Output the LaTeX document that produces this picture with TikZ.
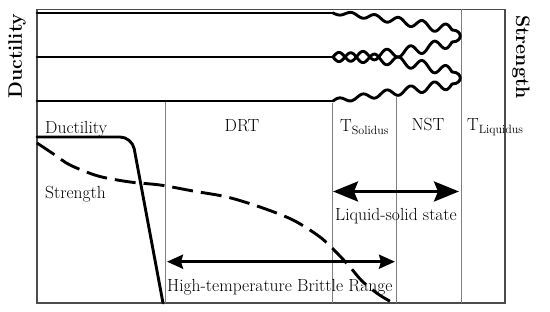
\documentclass[tikz,border=0pt]{standalone}
\usetikzlibrary{arrows.meta}
\newcommand\wavyline[8]{%
  \draw[wire] plot[domain=#1:#3, samples=200] (\x, {#2 + (#4-#2)*((\x-#1)/(#3-#1))^#8 + (#5 + (#6-#5)/(#3-#1)*(\x-#1))*sin(360*#7/(#3-#1)*(\x-#1))});}
\begin{document}
\begin{tikzpicture}[x=1pt,y=-1pt,
  frame/.style={draw=black!70, line width=1.3pt},
  divider/.style={draw=black!50, line width=0.9pt},
  wire/.style={line width=2.9pt, line cap=round, line join=round},
  lbl/.style={font=\fontsize{17.5}{19}\selectfont, inner sep=0pt},
  axislbl/.style={font=\fontsize{19.5}{21}\selectfont\bfseries, inner sep=0pt},
  bigarrow/.style={line width=3pt, {Stealth[length=25pt,width=20pt,inset=4pt]}-{Stealth[length=25pt,width=20pt,inset=4pt]}},
  smallarrow/.style={line width=3pt, {Stealth[length=16pt,width=14pt,inset=2pt]}-{Stealth[length=16pt,width=14pt,inset=2pt]}}]
\useasboundingbox (0,0) rectangle (550,312);
% frame and dividers
\draw[frame] (37,9.5) rectangle (505,303);
\draw[divider] (165,101) -- (165,303);
\draw[divider] (332.5,103) -- (332.5,303);
\draw[divider] (396.5,97) -- (396.5,303);
\draw[divider] (461,9.5) -- (461,303);
% straight wires
\draw[wire] (37,13) -- (333,13);
\draw[wire] (37,57) -- (333,57);
\draw[wire] (37,101) -- (333,101);
% wavy lenses
\wavyline{333}{13}{452}{30}{1.5}{5}{5}{1.3}
\draw[wire] (452,30) .. controls (463,30) and (463,42) .. (452,42);
\wavyline{333}{57}{452}{42}{-4.5}{-5}{5}{2}
\wavyline{333}{57}{452}{72}{4.5}{5}{5}{2}
\draw[wire] (452,72) .. controls (463,72) and (463,84) .. (452,84);
\wavyline{333}{101}{452}{84}{-2}{-5}{5}{1}
% curves
\draw[wire, rounded corners=12pt] (37,137) -- (132,137) -- (163,303);
\draw[wire, line cap=butt, dash pattern=on 21pt off 8pt] plot[smooth, tension=0.5] coordinates {(37,143) (55,155) (70,165) (98,176) (130,182) (160,185) (193,191) (227,197) (260,207) (293,220) (320,237) (337,253) (350,267) (362,281) (378,294) (393,303)};
% arrows
\coordinate (ls1) at (333,191.5);
\coordinate (ls2) at (459,191.5);
\draw[bigarrow] (ls1) -- (ls2);
\coordinate (ht1) at (167,261.7);
\coordinate (ht2) at (395,261.7);
\draw[smallarrow] (ht1) -- (ht2);
% labels
\node[axislbl, rotate=90] (yl) at (17,56) {Ductility};
\node[axislbl, rotate=-90] (yr) at (521,57) {Strength};
\node[lbl, anchor=base west] (dl) at (45,133.3) {Ductility};
\node[lbl, anchor=base west] (sl) at (45,198.5) {Strength};
\node[lbl, anchor=base] (drt) at (242,131.7) {DRT};
\node[lbl, anchor=base west] (ts) at (340,131.7) {T$_{\mathrm{Solidus}}$};
\node[lbl, anchor=base] (nst) at (428,130.5) {NST};
\node[lbl, anchor=base west] (tl) at (467,131) {T$_{\mathrm{Liquidus}}$};
\node[lbl, anchor=base] (lss) at (396,221) {Liquid-solid state};
\node[lbl, anchor=base west] (htb) at (167,291.7) {High-temperature Brittle Range};
\end{tikzpicture}
\end{document}
